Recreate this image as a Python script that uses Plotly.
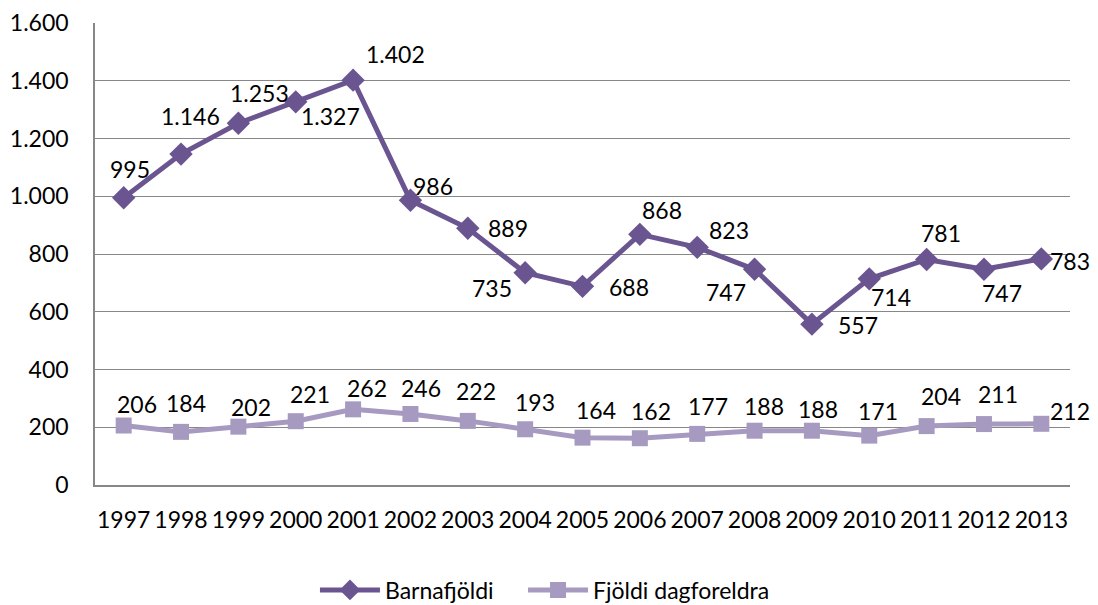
import plotly.graph_objects as go

years = [str(y) for y in range(1997, 2014)]
barnafjoldi = [995, 1146, 1253, 1327, 1402, 986, 889, 735, 688, 868, 823, 747, 557, 714, 781, 747, 783]
dagforeldrar = [206, 184, 202, 221, 262, 246, 222, 193, 164, 162, 177, 188, 188, 171, 204, 211, 212]
series_names = ["Barnafjöldi", "Fjöldi dagforeldra"]
y_ticks = [0, 200, 400, 600, 800, 1000, 1200, 1400, 1600]

# label offsets in pixels (dx, dy downwards)
dark_off = [(6, -29), (9, -38), (21, -30), (35, 14), (42, -26), (23, -14), (40, 0), (-33, 15),
            (46, 1), (22, -24), (32, -17), (-29, 23), (46, 1), (22, 18), (14, -26), (18, 24), (29, 2)]
light_off = [(13, -22), (5, -29), (13, -20), (14, -27), (14, -21), (11, -26), (8, -30), (10, -27),
             (13, -28), (11, -27), (11, -28), (9, -25), (6, -22), (9, -25), (14, -30), (14, -30), (29, -13)]

DARK = "#6A5591"
LIGHT = "#A79AC0"
FONT = "Lato"
FS = 23

def fmt(v):
    return f"{v:,}".replace(",", ".")

fig = go.Figure()
fig.add_trace(go.Scatter(
    x=years, y=dagforeldrar, name=series_names[1], mode="lines+markers", legend="legend2",
    line=dict(color=LIGHT, width=5), marker=dict(symbol="square", size=16, color=LIGHT)))
fig.add_trace(go.Scatter(
    x=years, y=barnafjoldi, name=series_names[0], mode="lines+markers", legend="legend",
    line=dict(color=DARK, width=5), marker=dict(symbol="diamond", size=18, color=DARK)))

annotations = []
for i, (v, (dx, dy)) in enumerate(zip(barnafjoldi, dark_off)):
    annotations.append(dict(x=i, y=v, xref="x", yref="y", text=fmt(v), showarrow=False,
                            xshift=dx, yshift=-dy, font=dict(family=FONT, size=FS, color="#000000")))
for i, (v, (dx, dy)) in enumerate(zip(dagforeldrar, light_off)):
    annotations.append(dict(x=i, y=v, xref="x", yref="y", text=fmt(v), showarrow=False,
                            xshift=dx, yshift=-dy, font=dict(family=FONT, size=FS, color="#000000")))

fig.update_layout(
    width=1098, height=605,
    margin=dict(l=87, r=36, t=15, b=128, autoexpand=False),
    paper_bgcolor="white", plot_bgcolor="white",
    separators=",.",
    font=dict(family=FONT, size=FS, color="#000000"),
    showlegend=True,
    legend=dict(orientation="h", x=0.2256, xanchor="left", y=-0.2273, yanchor="middle",
                font=dict(family=FONT, size=FS), itemwidth=60),
    legend2=dict(orientation="h", x=0.439, xanchor="left", y=-0.2273, yanchor="middle",
                 font=dict(family=FONT, size=FS), itemwidth=60),
    annotations=annotations,
)
fig.update_xaxes(type="category", range=[-0.5, 16.5], showgrid=False, showline=True,
                 linecolor="#878787", linewidth=1.5,
                 ticks="", ticklabelstandoff=14, tickfont=dict(family=FONT, size=FS))
fig.update_yaxes(range=[0, 1600], tickvals=y_ticks, tickformat=",d", showgrid=True,
                 gridcolor="#878787", gridwidth=1.3, showline=True, linecolor="#878787", linewidth=1.5,
                 zeroline=False, ticks="", ticklabelstandoff=20, tickfont=dict(family=FONT, size=FS))

fig.write_html("out.html")
